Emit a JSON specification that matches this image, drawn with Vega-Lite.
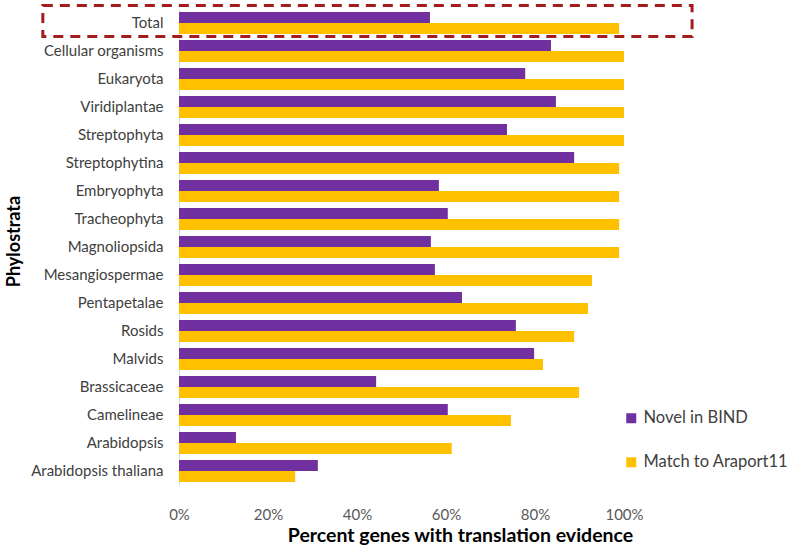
{
  "$schema": "https://vega.github.io/schema/vega-lite/v6.json",
  "width": 445,
  "height": 476,
  "autosize": {"type": "none"},
  "padding": {"left": 179, "top": 9, "right": 171, "bottom": 62},
  "background": "white",
  "config": {
    "view": {"stroke": null},
    "font": "Lato"
  },
  "datasets": {
    "bars": [
      {"category": "Total", "series": "Novel in BIND", "value": 56.4},
      {"category": "Total", "series": "Match to Araport11", "value": 98.9},
      {"category": "Cellular organisms", "series": "Novel in BIND", "value": 83.6},
      {"category": "Cellular organisms", "series": "Match to Araport11", "value": 100},
      {"category": "Eukaryota", "series": "Novel in BIND", "value": 77.8},
      {"category": "Eukaryota", "series": "Match to Araport11", "value": 100},
      {"category": "Viridiplantae", "series": "Novel in BIND", "value": 84.7},
      {"category": "Viridiplantae", "series": "Match to Araport11", "value": 100},
      {"category": "Streptophyta", "series": "Novel in BIND", "value": 73.7},
      {"category": "Streptophyta", "series": "Match to Araport11", "value": 100},
      {"category": "Streptophytina", "series": "Novel in BIND", "value": 88.8},
      {"category": "Streptophytina", "series": "Match to Araport11", "value": 98.9},
      {"category": "Embryophyta", "series": "Novel in BIND", "value": 58.4},
      {"category": "Embryophyta", "series": "Match to Araport11", "value": 98.9},
      {"category": "Tracheophyta", "series": "Novel in BIND", "value": 60.4},
      {"category": "Tracheophyta", "series": "Match to Araport11", "value": 98.9},
      {"category": "Magnoliopsida", "series": "Novel in BIND", "value": 56.6},
      {"category": "Magnoliopsida", "series": "Match to Araport11", "value": 98.9},
      {"category": "Mesangiospermae", "series": "Novel in BIND", "value": 57.5},
      {"category": "Mesangiospermae", "series": "Match to Araport11", "value": 92.8},
      {"category": "Pentapetalae", "series": "Novel in BIND", "value": 63.6},
      {"category": "Pentapetalae", "series": "Match to Araport11", "value": 91.9},
      {"category": "Rosids", "series": "Novel in BIND", "value": 75.7},
      {"category": "Rosids", "series": "Match to Araport11", "value": 88.8},
      {"category": "Malvids", "series": "Novel in BIND", "value": 79.8},
      {"category": "Malvids", "series": "Match to Araport11", "value": 81.8},
      {"category": "Brassicaceae", "series": "Novel in BIND", "value": 44.3},
      {"category": "Brassicaceae", "series": "Match to Araport11", "value": 89.9},
      {"category": "Camelineae", "series": "Novel in BIND", "value": 60.4},
      {"category": "Camelineae", "series": "Match to Araport11", "value": 74.6},
      {"category": "Arabidopsis", "series": "Novel in BIND", "value": 12.8},
      {"category": "Arabidopsis", "series": "Match to Araport11", "value": 61.3},
      {"category": "Arabidopsis thaliana", "series": "Novel in BIND", "value": 31.2},
      {"category": "Arabidopsis thaliana", "series": "Match to Araport11", "value": 26.1}
    ],
    "box": [
      {"category": "Total", "x0": -30.6, "x1": 115.3}
    ]
  },
  "layer": [
    {
      "data": {"name": "bars"},
      "mark": {"type": "bar"},
      "encoding": {
        "y": {
          "field": "category",
          "type": "nominal",
          "scale": {
            "domain": ["Total", "Cellular organisms", "Eukaryota", "Viridiplantae", "Streptophyta", "Streptophytina", "Embryophyta", "Tracheophyta", "Magnoliopsida", "Mesangiospermae", "Pentapetalae", "Rosids", "Malvids", "Brassicaceae", "Camelineae", "Arabidopsis", "Arabidopsis thaliana"],
            "paddingInner": 0.21,
            "paddingOuter": 0.105
          },
          "axis": {
            "title": "Phylostrata",
            "titleFontSize": 18,
            "titleFontWeight": "bold",
            "titleColor": "#000000",
            "titleX": -165,
            "titleY": 232,
            "titleAngle": 270,
            "titleAlign": "center",
            "titleBaseline": "middle",
            "labelFontSize": 15,
            "labelColor": "#404040",
            "labelPadding": 16,
            "ticks": false,
            "domain": true,
            "domainColor": "#d9d9d9",
            "domainWidth": 1,
            "grid": false
          }
        },
        "yOffset": {
          "field": "series",
          "type": "nominal",
          "sort": ["Novel in BIND", "Match to Araport11"],
          "scale": {"paddingInner": 0, "paddingOuter": 0}
        },
        "x": {
          "field": "value",
          "type": "quantitative",
          "scale": {"domain": [0, 100], "nice": false},
          "axis": {
            "values": [0, 20, 40, 60, 80, 100],
            "labelExpr": "datum.value + '%'",
            "labelFlush": false,
            "labelFontSize": 15,
            "labelColor": "#595959",
            "labelPadding": 22,
            "ticks": false,
            "domain": false,
            "grid": false,
            "title": "Percent genes with translation evidence",
            "titleFontSize": 19.5,
            "titleFontWeight": "bold",
            "titleColor": "#000000",
            "titleX": 281,
            "titleY": 60,
            "titleAlign": "center",
            "titleBaseline": "bottom"
          }
        },
        "color": {
          "field": "series",
          "type": "nominal",
          "sort": ["Novel in BIND", "Match to Araport11"],
          "scale": {"domain": ["Novel in BIND", "Match to Araport11"], "range": ["#7030a0", "#ffc000"]},
          "legend": {
            "title": null,
            "orient": "none",
            "legendX": 444,
            "legendY": 401,
            "symbolType": "square",
            "symbolSize": 100,
            "symbolStrokeWidth": 0,
            "labelFontSize": 16.5,
            "labelColor": "#404040",
            "labelOffset": 4,
            "rowPadding": 27
          }
        }
      }
    },
    {
      "data": {"name": "box"},
      "mark": {
        "type": "rect",
        "fill": null,
        "stroke": "#a31d1d",
        "strokeWidth": 3,
        "strokeDash": [10, 7],
        "height": {"band": 1.4},
        "yOffset": -2
      },
      "encoding": {
        "y": {"field": "category", "type": "nominal"},
        "x": {"field": "x0", "type": "quantitative"},
        "x2": {"field": "x1"}
      }
    }
  ]
}
